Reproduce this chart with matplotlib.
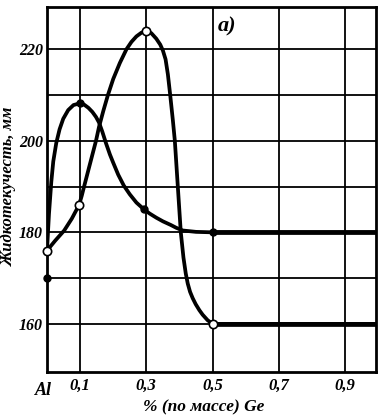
import matplotlib.pyplot as plt
from matplotlib.ticker import FixedLocator

# Кривая 1 (закрашенные точки)
c1_x = [0, 0.003, 0.006, 0.01, 0.013, 0.019, 0.028, 0.038, 0.049, 0.064, 0.08, 0.1,
        0.112, 0.125, 0.137, 0.148, 0.157, 0.167, 0.178, 0.19, 0.2, 0.215, 0.232,
        0.25, 0.27, 0.293, 0.31, 0.33, 0.35, 0.374, 0.39, 0.41, 0.45, 0.5, 0.99]
c1_y = [176, 180, 184, 188, 191, 195.5, 199.5, 202.5, 204.8, 206.7, 207.8, 208.2,
        207.9, 207.2, 206.3, 205.2, 204, 202, 199.5, 197, 195.2, 192.6, 190.2,
        188.3, 186.5, 185, 184.1, 183.2, 182.4, 181.6, 181, 180.4, 180.1, 180, 180]
c1_mx = [0, 0.1, 0.293, 0.5]
c1_my = [170, 208.2, 185, 180]

# Кривая 2 (светлые точки)
c2_x = [0, 0.025, 0.052, 0.075, 0.097, 0.105, 0.112, 0.13, 0.148, 0.157, 0.17, 0.184,
        0.2, 0.22, 0.24, 0.255, 0.27, 0.285, 0.3, 0.315, 0.33, 0.342, 0.35, 0.358,
        0.365, 0.372, 0.38, 0.386, 0.395, 0.404, 0.412, 0.419, 0.425, 0.432, 0.44,
        0.449, 0.46, 0.47, 0.485, 0.5, 0.99]
c2_y = [176, 178.2, 180.4, 183, 186, 188, 190, 195, 200, 203, 206.5, 210,
        213.5, 217, 220, 221.6, 222.8, 223.6, 224, 223.5, 222.3, 221, 219.7, 217.8,
        214.5, 210, 204.5, 200, 190, 180, 174.5, 171, 168.8, 167, 165.6,
        164.3, 163, 162, 160.8, 160, 160]
c2_mx = [0, 0.097, 0.3, 0.5]
c2_my = [176, 186, 224, 160]

x_ticks = [0.1, 0.3, 0.5, 0.7, 0.9]
x_labels = ['0,1', '0,3', '0,5', '0,7', '0,9']
y_ticks = [160, 180, 200, 220]
y_minor = [170, 190, 210]

font = {'family': 'Liberation Serif', 'style': 'italic', 'weight': 'bold'}

fig = plt.figure(figsize=(3.82, 4.17), dpi=100)
ax = fig.add_axes([0.123, 0.108, 0.861, 0.875])

ax.set_xlim(0, 0.993)
ax.set_ylim(149.5, 229.2)

ax.xaxis.set_major_locator(FixedLocator(x_ticks))
ax.set_xticklabels(x_labels, fontdict=font, fontsize=12)
ax.yaxis.set_major_locator(FixedLocator(y_ticks))
ax.yaxis.set_minor_locator(FixedLocator(y_minor))
ax.set_yticklabels([str(v) for v in y_ticks], fontdict=font, fontsize=11.5)
ax.tick_params(which='both', length=0, pad=4)
ax.tick_params(axis='y', pad=3)
ax.grid(True, which='both', color='black', lw=1.3)
ax.set_axisbelow(True)
for s in ax.spines.values():
    s.set_linewidth(2.0)

ax.plot(c1_x, c1_y, color='black', lw=2.7, solid_capstyle='round', solid_joinstyle='round')
ax.plot(c2_x, c2_y, color='black', lw=2.7, solid_capstyle='round', solid_joinstyle='round')
ax.plot(c1_x[-2:], c1_y[-2:], color='black', lw=3.4)
ax.plot(c2_x[-2:], c2_y[-2:], color='black', lw=3.4)

ax.plot(c1_mx, c1_my, 'o', color='black', ms=5, clip_on=False, zorder=5)
ax.plot(c2_mx, c2_my, 'o', mfc='white', mec='black', mew=1.2, ms=6, clip_on=False, zorder=5)

ax.text(0.515, 225, 'a)', fontdict=font, fontsize=16, va='center')
ax.text(-0.01, -0.05, 'Al', fontdict=font, fontsize=13, ha='center', va='center',
        transform=ax.get_xaxis_transform())

ax.set_xlabel('% (по массе) Ge', fontdict=font, fontsize=12.5)
ax.xaxis.set_label_coords(0.475, -0.075)
ax.set_ylabel('Жидкотекучесть, мм', fontdict=font, fontsize=12)
ax.yaxis.set_label_coords(-0.09, 0.51)

fig.savefig('out.png', dpi=100)
